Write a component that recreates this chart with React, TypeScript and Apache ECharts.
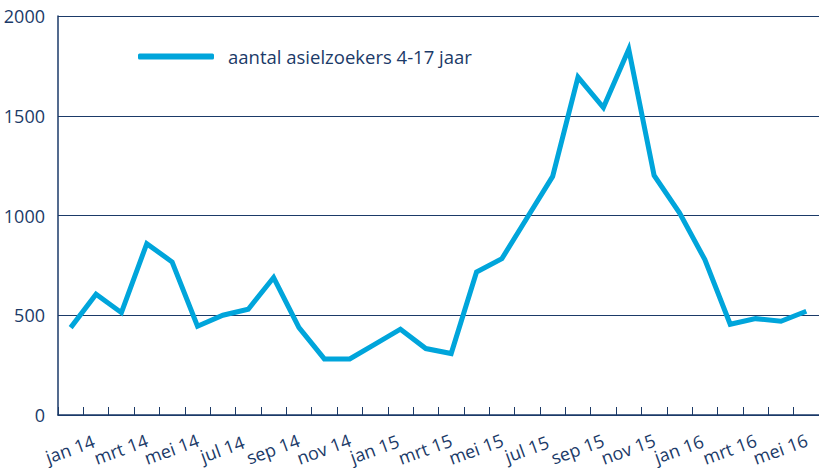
import React, { useEffect, useRef } from "react";
import * as echarts from "echarts";

const categories = [
  "jan 14", "feb 14", "mrt 14", "apr 14", "mei 14", "jun 14",
  "jul 14", "aug 14", "sep 14", "okt 14", "nov 14", "dec 14",
  "jan 15", "feb 15", "mrt 15", "apr 15", "mei 15", "jun 15",
  "jul 15", "aug 15", "sep 15", "okt 15", "nov 15", "dec 15",
  "jan 16", "feb 16", "mrt 16", "apr 16", "mei 16", "jun 16",
];

const values = [
  438, 605, 513, 859, 767, 445,
  500, 530, 689, 438, 281, 281,
  355, 430, 333, 308, 717, 784,
  990, 1196, 1694, 1541, 1833, 1201,
  1013, 779, 455, 483, 470, 520,
];

const seriesName = "aantal asielzoekers 4-17 jaar";
const navy = "#1b3a68";
const lineColor = "#00a5db";
const font = "Open Sans";

export default function App() {
  const ref = useRef<HTMLDivElement>(null);
  useEffect(() => {
    if (!ref.current) return;
    const chart = echarts.init(ref.current, undefined, { renderer: "svg" });
    chart.setOption({
      animation: false,
      backgroundColor: "#ffffff",
      textStyle: { fontFamily: font },
      grid: { left: 58, right: -8, top: 16, bottom: 53, containLabel: false },
      legend: {
        show: true,
        left: 133,
        top: 42,
        itemWidth: 76,
        itemHeight: 6,
        icon: "roundRect",
        data: [seriesName],
        textStyle: {
          color: navy,
          fontSize: 18.5,
          fontFamily: font,
          padding: [0, 0, 0, 9],
        },
      },
      xAxis: {
        type: "category",
        data: categories,
        boundaryGap: true,
        axisLine: { show: true, lineStyle: { color: navy, width: 1.5 } },
        axisTick: {
          show: true,
          inside: true,
          length: 8,
          alignWithLabel: false,
          interval: 0,
          lineStyle: { color: navy, width: 1 },
        },
        axisLabel: {
          interval: 0,
          formatter: (v: string, i: number) => (i % 2 === 0 ? v : ""),
          showMinLabel: true,
          showMaxLabel: true,
          hideOverlap: false,
          rotate: 20,
          align: "center",
          verticalAlign: "top",
          padding: [0, 8, 0, 0],
          margin: 24,
          color: navy,
          fontSize: 18,
          fontFamily: font,
        },
        splitLine: { show: false },
      },
      yAxis: {
        type: "value",
        min: 0,
        max: 2000,
        interval: 500,
        axisLine: { show: true, lineStyle: { color: navy, width: 1.5 } },
        axisTick: { show: false },
        axisLabel: {
          formatter: (v: number) => String(v),
          color: navy,
          fontSize: 18,
          fontFamily: font,
          margin: 13,
        },
        splitLine: { show: true, lineStyle: { color: navy, width: 1 } },
      },
      series: [
        {
          name: seriesName,
          type: "line",
          data: values,
          symbol: "none",
          lineStyle: { color: lineColor, width: 5, join: "miter" },
          itemStyle: { color: lineColor },
        },
      ],
    });
    return () => chart.dispose();
  }, []);
  return (
    <div
      ref={ref}
      style={{ position: "absolute", left: 0, top: 0, width: 819, height: 468 }}
    />
  );
}
